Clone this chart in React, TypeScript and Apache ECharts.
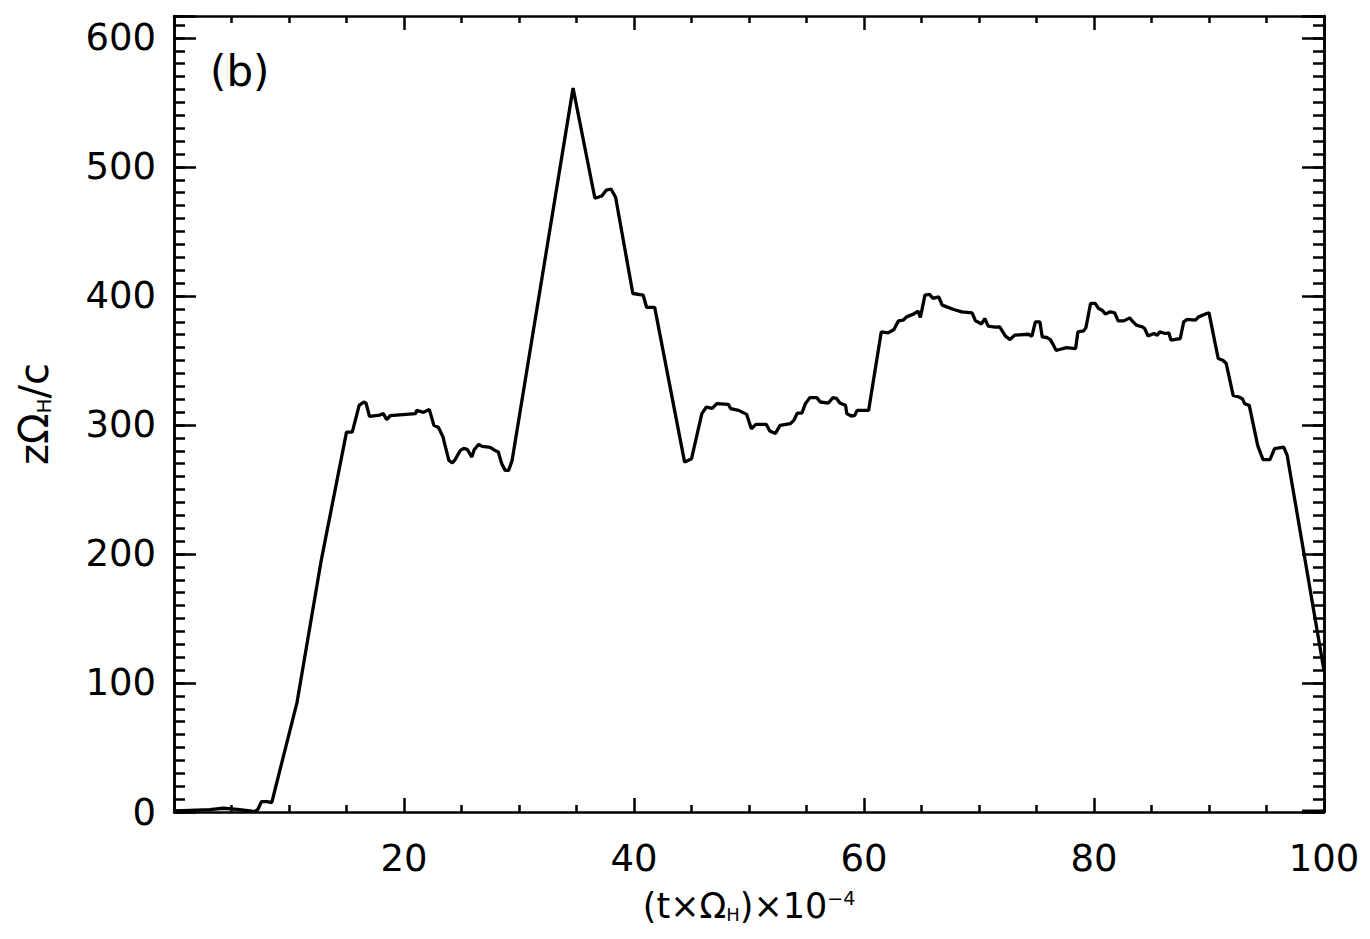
import React, { useEffect, useRef } from "react";
import * as echarts from "echarts";

// time (t x Omega_H) x 1e-4
const timeValues: number[] = [
  0, 1.4, 3.1, 4.3, 5.5, 6.6, 7.0, 7.3, 7.6, 8.1, 8.5, 8.9, 10.7, 12.8,
  15.0, 15.5, 16.1, 16.5, 16.7, 17.0, 17.9, 18.2, 18.5, 18.8, 21.0, 21.1, 21.7, 22.2, 22.6, 23.0,
  23.4, 23.5, 23.9, 24.2, 24.4, 24.9, 25.2, 25.5, 25.9, 26.1, 26.5, 26.8, 27.5, 27.9, 28.2, 28.5,
  28.8, 29.1, 29.4,
  34.7, 36.6, 37.2, 37.6, 38.0, 38.4, 39.9, 40.8, 41.1, 41.8, 44.4, 45.0, 45.9, 46.3, 46.8, 47.2,
  48.2, 48.4, 49.1, 49.8, 50.2, 50.6, 51.5, 51.8, 52.3, 52.7,
  53.6, 53.9, 54.2, 54.6, 54.9, 55.3, 55.9, 56.2, 56.9, 57.3, 57.6, 57.9, 58.4, 58.5, 58.9, 59.2,
  59.4, 60.4, 61.5, 62.1, 62.6, 63.0, 63.4, 63.7, 64.3, 64.7, 64.9, 65.3, 65.7, 66.0, 66.5, 66.8,
  67.8, 68.5, 69.4, 69.7, 69.9, 70.2, 70.5, 70.8, 71.4, 71.8, 72.3, 72.7, 73.1, 74.3, 74.6, 74.9,
  75.3,
  75.5, 75.9, 76.2, 76.4, 76.7, 77.0, 77.6, 78.4, 78.6, 79.1, 79.3, 79.7, 80.1, 80.4, 80.7, 81.0,
  81.4, 81.8, 82.1, 82.6, 83.1, 83.4, 83.7, 84.2, 84.4, 84.7, 85.2, 85.5, 85.7, 86.2, 86.5, 86.7,
  87.5, 87.8, 88.1, 88.8, 89.1, 89.8, 90.0, 90.8, 91.2, 91.5, 92.1, 92.6, 92.9, 93.1, 93.5, 94.2,
  94.3, 94.7, 95.3, 95.7, 96.5, 96.8, 100,
];

// z Omega_H / c
const heightValues: number[] = [
  0.8, 1.3, 1.8, 2.9, 2.1, 0.8, 0.2, 2.1, 8.0, 8.0, 7.2, 21.5, 85.0, 194.9,
  294.5, 294.5, 315.2, 317.8, 316.8, 306.7, 307.7, 308.8, 304.1, 307.2, 308.8, 311.3, 309.8, 312.1, 299.7, 298.1,
  290.6, 286.7, 272.5, 270.7, 272.5, 280.3, 281.8, 281.1, 275.1, 280.8, 284.9, 283.4, 282.6, 280.3, 279, 270,
  264.8, 264.8, 272.5,
  561.1, 475.7, 477.5, 482.1, 482.9, 476.5, 401.9, 400.6, 391.1, 391.1, 271.2, 273.8, 308.8, 313.9, 312.9, 316.5,
  316, 312.7, 311.3, 308.2, 297.1, 300.5, 300.5, 295.3, 293.5, 299.7,
  301.0, 303.6, 309.2, 309.2, 316.5, 321.2, 321.2, 317.8, 317, 321.2, 320.7, 317, 315.2, 308.8, 306.9, 307.5,
  311.3, 311.3, 372.1, 371.4, 374, 380.7, 381.2, 383.8, 385.9, 388.2, 383.3, 400.6, 401.2, 398.1, 399.3, 392.9,
  389.5, 387.7, 386.9, 380.7, 379.9, 378.1, 382.5, 376.6, 375.8, 376, 368.8, 366.2, 369.6, 370.3, 368.8, 379.9,
  379.9,
  368.2, 367.8, 366.2, 363.1, 357.9, 358.5, 360, 359.2, 372.1, 372.9, 375.5, 394.2, 394.2, 390.3, 389, 385.9,
  387.7, 386.9, 380.7, 380.7, 383, 379.9, 377.3, 376, 374.8, 369, 370.9, 369.6, 372.1, 370.9, 371.4, 365.7,
  367, 379.9, 381.8, 381.2, 383.8, 386.4, 386.9, 351.5, 350.2, 347.6, 323, 321.7, 320.4, 316.5, 315.2, 285.5,
  282.4, 273.1, 273.1, 281.6, 282.8, 276.4, 109.5,
];

// short trace lying on the bottom axis at the end of the run
const tailTime: number[] = [98.1, 100];
const tailHeight: number[] = [0.6, 0.6];

const xTickLabels: number[] = [20, 40, 60, 80, 100];
const yTickLabels: number[] = [0, 100, 200, 300, 400, 500, 600];

const FONT = "DejaVu Sans";
const BLACK = "#000";

export default function App() {
  const ref = useRef<HTMLDivElement>(null);

  useEffect(() => {
    if (!ref.current) return;
    const chart = echarts.init(ref.current, null, { renderer: "svg" });

    const lineData = timeValues.map((t, i) => [t, heightValues[i]]);
    const tailData = tailTime.map((t, i) => [t, tailHeight[i]]);

    const axisLine = { show: true, onZero: false, lineStyle: { color: BLACK, width: 2.5 } };
    const tickStyle = { color: BLACK, width: 2.5 };

    const xBase = (position: "bottom" | "top", showLabel: boolean) => ({
      type: "value" as const,
      position,
      min: 0,
      max: 100,
      interval: 20,
      axisLine,
      axisTick: { show: true, inside: true, length: 14, lineStyle: tickStyle },
      minorTick: { show: true, splitNumber: 4, length: 7, lineStyle: tickStyle },
      splitLine: { show: false },
      minorSplitLine: { show: false },
      axisLabel: {
        show: showLabel,
        margin: 28,
        fontFamily: FONT,
        fontSize: 37,
        color: BLACK,
        formatter: (v: number) => (xTickLabels.includes(v) ? String(v) : ""),
      },
    });

    const yBase = (position: "left" | "right", major: boolean, showLabel: boolean) => ({
      type: "value" as const,
      position,
      min: 0,
      max: 617,
      interval: major ? 100 : 10,
      axisLine,
      axisTick: { show: true, inside: true, length: major ? 22 : 11, lineStyle: tickStyle },
      splitLine: { show: false },
      axisLabel: {
        show: showLabel,
        margin: 18,
        fontFamily: FONT,
        fontSize: 37,
        color: BLACK,
        formatter: (v: number) => (yTickLabels.includes(v) ? String(v) : ""),
      },
    });

    const xMain: any = xBase("bottom", true);
    xMain.name = "(t×Ω{s|H})×10{p|−4}";
    xMain.nameLocation = "middle";
    xMain.nameGap = 76;
    xMain.nameTextStyle = {
      fontFamily: FONT,
      fontSize: 35,
      color: BLACK,
      rich: {
        s: { fontFamily: FONT, fontSize: 18, color: BLACK, verticalAlign: "bottom" },
        p: { fontFamily: FONT, fontSize: 19, color: BLACK, verticalAlign: "top" },
      },
    };

    const yMain: any = yBase("left", true, true);
    yMain.name = "zΩ{s|H}/c";
    yMain.nameLocation = "middle";
    yMain.nameGap = 120;
    yMain.nameTextStyle = {
      fontFamily: FONT,
      fontSize: 40,
      color: BLACK,
      rich: {
        s: { fontFamily: FONT, fontSize: 20, color: BLACK, verticalAlign: "bottom" },
      },
    };

    chart.setOption({
      animation: false,
      backgroundColor: "#fff",
      grid: {
        left: 174,
        right: 46,
        top: 16,
        bottom: 127,
        containLabel: false,
        outerBoundsMode: "none",
      },
      xAxis: [xMain, xBase("top", false)],
      yAxis: [
        yMain,
        yBase("left", false, false),
        yBase("right", true, false),
        yBase("right", false, false),
      ],
      graphic: [
        {
          type: "text",
          left: 210,
          top: 50,
          style: { text: "(b)", fontFamily: FONT, fontSize: 42, fill: BLACK },
        },
      ],
      series: [
        {
          type: "line",
          xAxisIndex: 0,
          yAxisIndex: 0,
          data: lineData,
          showSymbol: false,
          symbol: "none",
          clip: true,
          lineStyle: { color: BLACK, width: 3.3 },
        },
        {
          type: "line",
          xAxisIndex: 0,
          yAxisIndex: 0,
          data: tailData,
          showSymbol: false,
          symbol: "none",
          clip: true,
          lineStyle: { color: BLACK, width: 3.3 },
        },
      ],
    });

    return () => chart.dispose();
  }, []);

  return (
    <div
      ref={ref}
      style={{ position: "fixed", left: 0, top: 0, width: 1370, height: 939, background: "#fff" }}
    />
  );
}
